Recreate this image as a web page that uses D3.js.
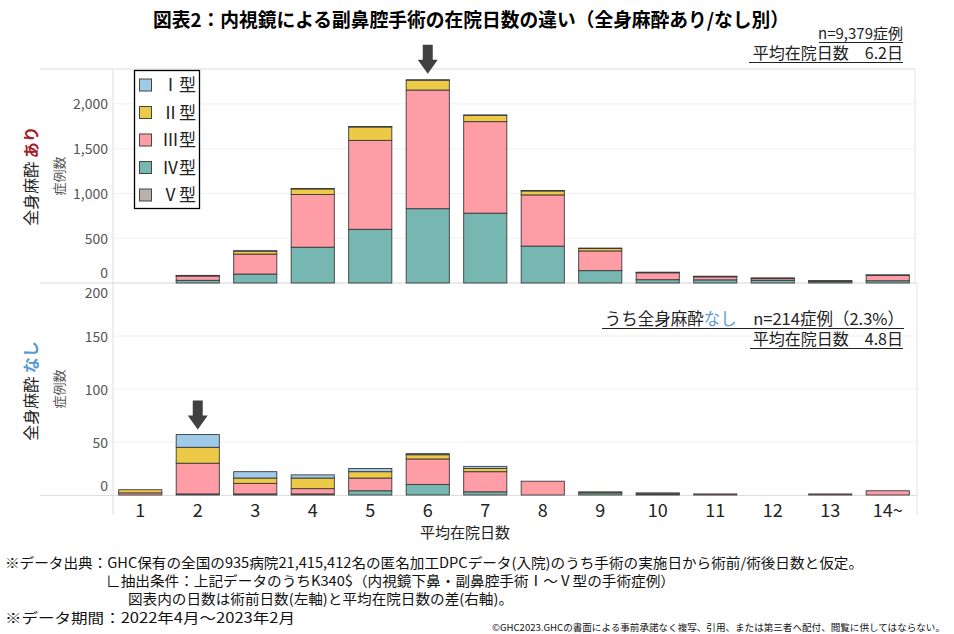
<!DOCTYPE html>
<html><head><meta charset="utf-8">
<script src="https://cdn.jsdelivr.net/npm/d3@7"></script>
<style>
body{margin:0;background:#fff;}
text{font-family:"Noto Sans CJK JP","Noto Sans",sans-serif;}
</style></head>
<body><svg id="c" width="954" height="634"></svg>
<script>
const days = ["1","2","3","4","5","6","7","8","9","10","11","12","13","14~"];
const types = ["Ⅰ型","Ⅱ型","Ⅲ型","Ⅳ型","Ⅴ型"];
const typeColors = ["#a0cbe8","#edc948","#ff9da7","#76b7b2","#bab0ac"];
// 全身麻酔あり
const ariI   = [0,1,2,5,5,5,5,4,4,1,1,1,0,1];
const ariII  = [0,4,35,63,150,110,70,45,28,2,2,2,1,6];
const ariIII = [0,50,223,588,993,1325,1022,572,220,80,37,22,10,58];
const ariIV  = [0,30,100,400,600,830,780,412,138,37,35,30,15,25];
const ariV   = [0,0,0,0,0,0,0,0,0,0,0,0,0,0];
// 全身麻酔なし
const nasiI   = [0,12,6,3,3,1,2,0,0,0,0,0,0,0];
const nasiII  = [3,15,5,10,6,4,3,0,1,0,0,0,0,0];
const nasiIII = [2,29,10,5,12,24,19,13,0,1,1,0,1,4];
const nasiIV  = [0,1,1,1,4,10,3,0,2,1,0,0,0,0];
const nasiV   = [0,0,0,0,0,0,0,0,0,0,0,0,0,0];
const topTicks = [0,500,1000,1500,2000];
const botTicks = [0,50,100,150,200];
const arrowDayTop = "6", arrowDayBot = "2";

const svg = d3.select("#c");
const x = d3.scaleBand().domain(days).range([111.5,916.5]).paddingInner(0.25).paddingOuter(0.125);
const yTop = d3.scaleLinear().domain([0,2390]).range([283,69]);
const yBot = d3.scaleLinear().domain([0,200]).range([495,283]);

// title
svg.append("text").attr("x",471).attr("y",27).attr("text-anchor","middle")
  .attr("font-size",19).attr("font-weight","bold").attr("textLength",636).attr("lengthAdjust","spacingAndGlyphs")
  .text("図表2：内視鏡による副鼻腔手術の在院日数の違い（全身麻酔あり/なし別）");

// panel grids & axes
function panel(y, ticks, x1, labelShift){
  svg.append("g").selectAll("line").data(ticks.slice(1)).join("line")
    .attr("x1",113).attr("x2",x1).attr("y1",d=>y(d)).attr("y2",d=>y(d))
    .attr("stroke","#f0f0f0");
  const ax = svg.append("g").attr("transform","translate(113,0)")
    .call(d3.axisLeft(y).tickValues(ticks).tickFormat(d3.format(",")).tickSize(0).tickPadding(5));
  ax.select(".domain").remove();
  ax.selectAll("text").attr("font-size",14).attr("fill","#555").attr("font-family","Noto Sans")
    .attr("dy",(d)=> (labelShift[d]!==undefined? labelShift[d] : 0) + 5 + "px");
}
panel(yTop, topTicks, 915, {0:-11});
panel(yBot, botTicks, 917, {0:-10, 200:9});

// borders
svg.append("line").attr("x1",40).attr("x2",915).attr("y1",69).attr("y2",69).attr("stroke","#ddd");
svg.append("line").attr("x1",40).attr("x2",917).attr("y1",283).attr("y2",283).attr("stroke","#ddd");
svg.append("line").attr("x1",40).attr("x2",917).attr("y1",495.5).attr("y2",495.5).attr("stroke","#ddd");
svg.append("line").attr("x1",915).attr("x2",915).attr("y1",69).attr("y2",283).attr("stroke","#e4e4e4");
svg.append("line").attr("x1",917).attr("x2",917).attr("y1",283).attr("y2",515).attr("stroke","#e4e4e4");
svg.append("line").attr("x1",113).attr("x2",113).attr("y1",69).attr("y2",515).attr("stroke","#ddd");

// stacked bars
function bars(arrs, y){
  const rows = days.map((d,i)=>{ const o={day:d}; types.forEach((t,k)=>o[t]=arrs[k][i]); return o; });
  const order = [4,3,2,1,0].map(k=>types[k]); // bottom → top: Ⅴ,Ⅳ,Ⅲ,Ⅱ,Ⅰ
  const stack = d3.stack().keys(order)(rows);
  const g = svg.append("g");
  stack.forEach(s=>{
    const col = typeColors[types.indexOf(s.key)];
    g.selectAll(null).data(s.filter(d=>d[1]-d[0]>0)).join("rect")
      .attr("x",d=>x(d.data.day)).attr("width",x.bandwidth())
      .attr("y",d=>y(d[1])).attr("height",d=>Math.max(0.5,y(d[0])-y(d[1])))
      .attr("fill",col).attr("stroke","#3a3a3a").attr("stroke-width",0.9);
  });
  return rows.map(r=>order.reduce((a,k)=>a+r[k],0));
}
const totTop = bars([ariI,ariII,ariIII,ariIV,ariV], yTop);
const totBot = bars([nasiI,nasiII,nasiIII,nasiIV,nasiV], yBot);

// x axis
const xa = svg.append("g").attr("transform","translate(0,496)")
  .call(d3.axisBottom(x).tickSize(0).tickPadding(8));
xa.select(".domain").remove();
xa.selectAll("text").attr("font-size",18).attr("fill","#222").attr("font-family","Noto Sans");
svg.append("text").attr("x",465).attr("y",538).attr("text-anchor","middle").attr("font-size",15).attr("fill","#222").text("平均在院日数");

// arrows
function arrow(cx, tipY){
  const p = d3.path();
  p.moveTo(cx-5,tipY-29); p.lineTo(cx+5,tipY-29); p.lineTo(cx+5,tipY-14); p.lineTo(cx+10,tipY-14);
  p.lineTo(cx,tipY); p.lineTo(cx-10,tipY-14); p.lineTo(cx-5,tipY-14); p.closePath();
  svg.append("path").attr("d",p.toString()).attr("fill","#404040");
}
const iT = days.indexOf(arrowDayTop), iB = days.indexOf(arrowDayBot);
arrow(x(arrowDayTop)+x.bandwidth()/2, yTop(totTop[iT])-6);
arrow(x(arrowDayBot)+x.bandwidth()/2, yBot(totBot[iB])-5);

// legend
const lg = svg.append("g");
lg.append("rect").attr("x",134.5).attr("y",70.5).attr("width",65).attr("height",138).attr("fill","#fff").attr("stroke","#000").attr("stroke-width",1.3);
types.forEach((t,i)=>{
  const yy = 85 + i*27.5;
  lg.append("rect").attr("x",139.5).attr("y",yy-6).attr("width",12).attr("height",12).attr("fill",typeColors[i]).attr("stroke","#444");
  lg.append("text").attr("x",196).attr("y",yy+6).attr("text-anchor","end").attr("font-size",17).attr("fill","#222").text(t);
});

// side labels
function sideLabel(cy, word, col, cy2){
  const t = svg.append("text").attr("transform",`translate(37,${cy}) rotate(-90)`).attr("text-anchor","middle").attr("font-size",16).attr("fill","#222");
  t.append("tspan").text("全身麻酔 ");
  t.append("tspan").attr("fill",col).attr("font-weight","bold").text(word);
  svg.append("text").attr("transform",`translate(64,${cy2}) rotate(-90)`).attr("text-anchor","middle").attr("font-size",13).attr("fill","#555").text("症例数");
}
sideLabel(176,"あり","#a3202a",176);
sideLabel(391,"なし","#5b9bd5",389);

// annotations
function uline(xr, y, w, parts, fs){
  const t = svg.append("text").attr("x",xr).attr("y",y).attr("text-anchor","end").attr("font-size",fs).attr("fill","#222");
  parts.forEach(p=>t.append("tspan").attr("fill",p[1]||"#222").text(p[0]));
  svg.append("line").attr("x1",xr-w).attr("x2",xr).attr("y1",y+3.5).attr("y2",y+3.5).attr("stroke","#222").attr("stroke-width",1.2);
}
uline(903,39,84,[["n=9,379症例"]],15);
uline(903,59,154,[["平均在院日数　6.2日"]],16);
uline(904,325,302,[["うち全身麻酔"],["なし","#5b9bd5"],["　n=214症例（2.3%）"]],16.5);
uline(903,345,153,[["平均在院日数　4.8日"]],16);

// footer
const ft = [
  [5,568,858,"※データ出典：GHC保有の全国の935病院21,415,412名の匿名加工DPCデータ(入院)のうち手術の実施日から術前/術後日数と仮定。"],
  [106,586,569,"∟抽出条件：上記データのうちK340$（内視鏡下鼻・副鼻腔手術Ⅰ～Ⅴ型の手術症例）"],
  [128,604,385,"図表内の日数は術前日数(左軸)と平均在院日数の差(右軸)。"],
  [5,623,290,"※データ期間：2022年4月～2023年2月"]
];
ft.forEach(f=>svg.append("text").attr("x",f[0]).attr("y",f[1]).attr("font-size",14).attr("fill","#111")
  .attr("textLength",f[2]).attr("lengthAdjust","spacingAndGlyphs").text(f[3]));
svg.append("text").attr("x",492).attr("y",631).attr("font-size",9.5).attr("fill","#111").attr("textLength",453).attr("lengthAdjust","spacingAndGlyphs")
  .text("©GHC2023.GHCの書面による事前承諾なく複写、引用、または第三者へ配付、閲覧に供してはならない。");
</script></body></html>
